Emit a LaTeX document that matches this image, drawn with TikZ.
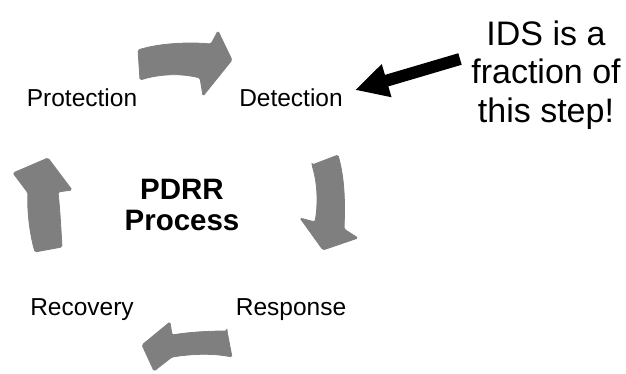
\documentclass[tikz,border=0pt]{standalone}
\usepackage{fontspec}
\setmainfont{Liberation Sans}
\usetikzlibrary{arrows.meta}
\definecolor{arrowgray}{HTML}{7F7F7F}
\tikzset{
  lbl/.style={inner sep=0pt, anchor=base, font=\fontsize{24.5}{29}\selectfont},
  blockarrow/.style={fill=arrowgray, draw=arrowgray, line width=0.8pt, rounded corners=1.5pt},
  pointer/.style={line width=12pt, black, -{Triangle[length=33pt,width=32pt]}}
}
\begin{document}
\begin{tikzpicture}[x=1pt,y=-1pt]
\useasboundingbox (0,0) rectangle (626,374);
% labels
\node[lbl] (prot) at (82,107) {Protection};
\node[lbl] (det) at (291,107) {Detection};
\node[lbl] (rec) at (82,315) {Recovery};
\node[lbl] (resp) at (291,315) {Response};
\node[inner sep=0pt, align=center, font=\fontsize{29.5}{31}\selectfont\bfseries] (center) at (182,205) {PDRR\\Process};
\node[inner sep=0pt, align=center, font=\fontsize{34}{38.5}\selectfont] (ids) at (546,74.9) {IDS is a\\fraction of\\this step!};
% block arrows of the cycle
\fill[blockarrow] (138,50) .. controls (160,43) and (190,42) .. (211,44) -- (218,31) -- (232,60) -- (203,96) -- (200,78) .. controls (180,73) and (160,74) .. (140,80) -- cycle;
\fill[blockarrow] (312,165) -- (338,155) .. controls (345,180) and (345,205) .. (344,229) -- (358,238) -- (323,250) -- (300,218) -- (315,222) .. controls (318,205) and (318,185) .. (312,165) -- cycle;
\fill[blockarrow] (227,331) -- (232,357) .. controls (212,353) and (192,354) .. (172,357) -- (154,371) -- (142,345) -- (170,322) -- (172,335) .. controls (190,332) and (210,331) .. (227,331) -- cycle;
\fill[blockarrow] (48,158) -- (72,190) -- (58,192) .. controls (60,210) and (61,230) .. (62,247) -- (35,252) .. controls (30,235) and (27,212) .. (28,193) -- (13,173) -- cycle;
% pointer
\coordinate (tail) at (460,59);
\coordinate (tip) at (355,90);
\draw[pointer] (tail) -- (tip);
\end{tikzpicture}
\end{document}
